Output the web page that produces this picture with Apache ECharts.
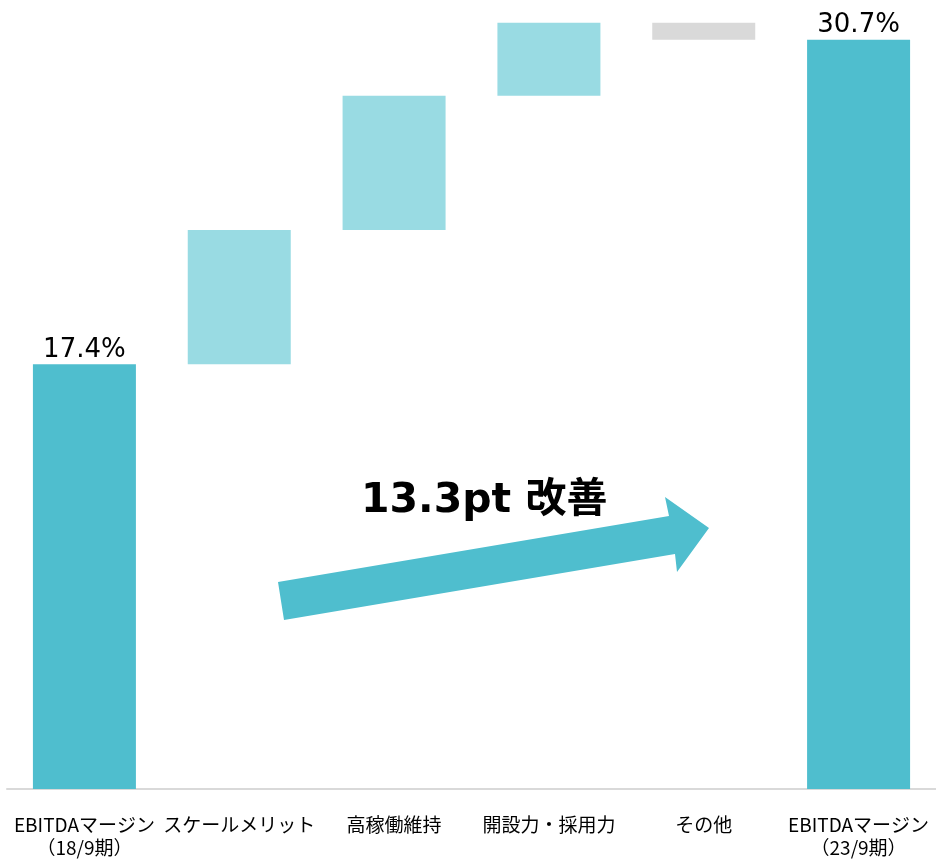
<!DOCTYPE html>
<html>
<head>
<meta charset="utf-8">
<script src="https://cdn.jsdelivr.net/npm/echarts@6/dist/echarts.min.js"></script>
<style>
  html, body { margin: 0; padding: 0; background: #fff; }
  #chart { width: 936px; height: 861px; }
</style>
</head>
<body>
<div id="chart"></div>
<script>
// EBITDA margin bridge, 18/9 -> 23/9 (percent / percentage points)
const categories = ['EBITDAマージン\n（18/9期）', 'スケールメリット', '高稼働維持', '開設力・採用力', 'その他', 'EBITDAマージン\n（23/9期）'];
const steps = [17.4, 5.5, 5.5, 3.0, -0.7, 30.7];
const stepKinds = ['total', 'up', 'up', 'up', 'down', 'total'];
const improvementText = '13.3pt 改善';

const colorTotal = '#4FBECE';
const colorUp = '#99DBE3';
const colorDown = '#D9D9D9';

// Build invisible base + visible step segment for the waterfall
const baseData = [];
const stepData = [];
let running = 0;
steps.forEach((v, i) => {
  const kind = stepKinds[i];
  if (kind === 'total') {
    baseData.push(0);
    stepData.push({ value: v, itemStyle: { color: colorTotal },
      label: { show: true, formatter: v.toFixed(1) + '%' } });
    running = v;
  } else if (v >= 0) {
    baseData.push(+running.toFixed(2));
    stepData.push({ value: v, itemStyle: { color: colorUp } });
    running += v;
  } else {
    running += v;
    baseData.push(+running.toFixed(2));
    stepData.push({ value: -v, itemStyle: { color: colorDown } });
  }
});

const chart = echarts.init(document.getElementById('chart'));
chart.setOption({
  animation: false,
  grid: { left: 7, width: 932, top: 8, bottom: 72, containLabel: false },
  xAxis: {
    type: 'category',
    data: categories,
    axisLine: { lineStyle: { color: '#D9D9D9', width: 2 } },
    axisTick: { show: false },
    axisLabel: {
      interval: 0,
      margin: 24,
      fontSize: 19,
      lineHeight: 23,
      color: '#000',
      fontFamily: '"Noto Sans CJK JP", sans-serif'
    }
  },
  yAxis: {
    type: 'value',
    min: 0,
    max: 32,
    show: false,
    splitLine: { show: false }
  },
  series: [
    {
      type: 'bar',
      stack: 'bridge',
      data: baseData,
      barWidth: 103,
      itemStyle: { color: 'transparent' },
      silent: true
    },
    {
      type: 'bar',
      stack: 'bridge',
      data: stepData,
      barWidth: 103,
      label: {
        show: false,
        position: 'top',
        distance: 1,
        fontSize: 26,
        color: '#000',
        fontFamily: '"DejaVu Sans", Verdana, sans-serif'
      }
    }
  ],
  graphic: [
    {
      type: 'polygon',
      shape: {
        points: [[278, 582], [669, 516], [665, 497], [709, 528], [677, 572], [675, 554], [284, 620]]
      },
      style: { fill: colorTotal }
    },
    {
      type: 'text',
      left: 361,
      top: 481,
      style: {
        text: improvementText,
        font: 'bold 41px "DejaVu Sans", "Noto Sans CJK JP", sans-serif',
        fill: '#000'
      }
    }
  ]
});
</script>
</body>
</html>
